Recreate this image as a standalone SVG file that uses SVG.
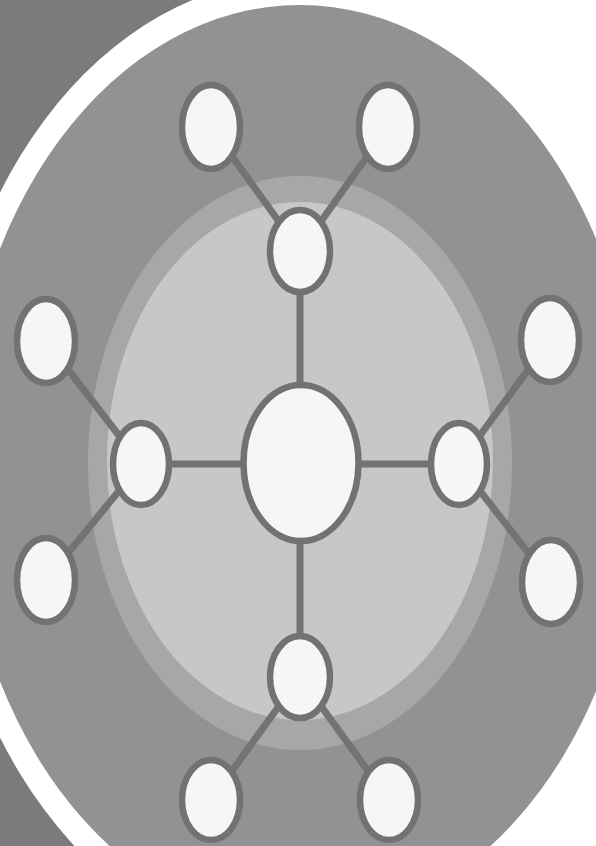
<svg xmlns="http://www.w3.org/2000/svg" width="596" height="846" viewBox="0 0 596 846">
<style>
.node{fill:#f6f6f8;stroke:#727273;stroke-width:6.5}
.link{stroke:#737374;stroke-width:7;stroke-linecap:butt}
</style>
<rect x="0" y="0" width="596" height="846" fill="#ffffff"/>
<rect x="0" y="0" width="300" height="846" fill="#7b7b7b"/>
<ellipse cx="300" cy="465" rx="362" ry="487" fill="#ffffff"/>
<ellipse cx="300" cy="465" rx="340" ry="460" fill="#919294"/>
<ellipse cx="300" cy="463" rx="212" ry="287" fill="#a6a7a9"/>
<ellipse cx="300" cy="461" rx="193" ry="259" fill="#c6c7c9"/>
<g id="connectors">
<line class="link" x1="300" y1="464" x2="300" y2="251"/>
<line class="link" x1="300" y1="464" x2="300" y2="677"/>
<line class="link" x1="300" y1="464" x2="141" y2="464"/>
<line class="link" x1="300" y1="464" x2="459" y2="464"/>
<line class="link" x1="300" y1="251" x2="211" y2="127"/>
<line class="link" x1="300" y1="251" x2="388" y2="127"/>
<line class="link" x1="141" y1="464" x2="46" y2="341"/>
<line class="link" x1="141" y1="464" x2="46" y2="580"/>
<line class="link" x1="459" y1="464" x2="550" y2="340"/>
<line class="link" x1="459" y1="464" x2="551" y2="582"/>
<line class="link" x1="300" y1="677" x2="211" y2="800"/>
<line class="link" x1="300" y1="677" x2="389" y2="800"/>
</g>
<g id="center"><ellipse class="node" cx="301" cy="463" rx="57.5" ry="78" stroke-width="7"/></g>
<g id="top"><ellipse class="node" cx="300" cy="251" rx="30" ry="41"/></g>
<g id="bottom"><ellipse class="node" cx="300" cy="677" rx="30" ry="41"/></g>
<g id="left"><ellipse class="node" cx="141" cy="464" rx="28" ry="41"/></g>
<g id="right"><ellipse class="node" cx="459" cy="464" rx="28" ry="41"/></g>
<g id="top-left"><ellipse class="node" cx="211" cy="127" rx="29" ry="42"/></g>
<g id="top-right"><ellipse class="node" cx="388" cy="127" rx="29" ry="42"/></g>
<g id="left-upper"><ellipse class="node" cx="46" cy="341" rx="29" ry="42"/></g>
<g id="left-lower"><ellipse class="node" cx="46" cy="580" rx="29" ry="42"/></g>
<g id="right-upper"><ellipse class="node" cx="550" cy="340" rx="29" ry="42"/></g>
<g id="right-lower"><ellipse class="node" cx="551" cy="582" rx="29" ry="42"/></g>
<g id="bottom-left"><ellipse class="node" cx="211" cy="800" rx="29" ry="40"/></g>
<g id="bottom-right"><ellipse class="node" cx="389" cy="800" rx="29" ry="40"/></g>
</svg>
